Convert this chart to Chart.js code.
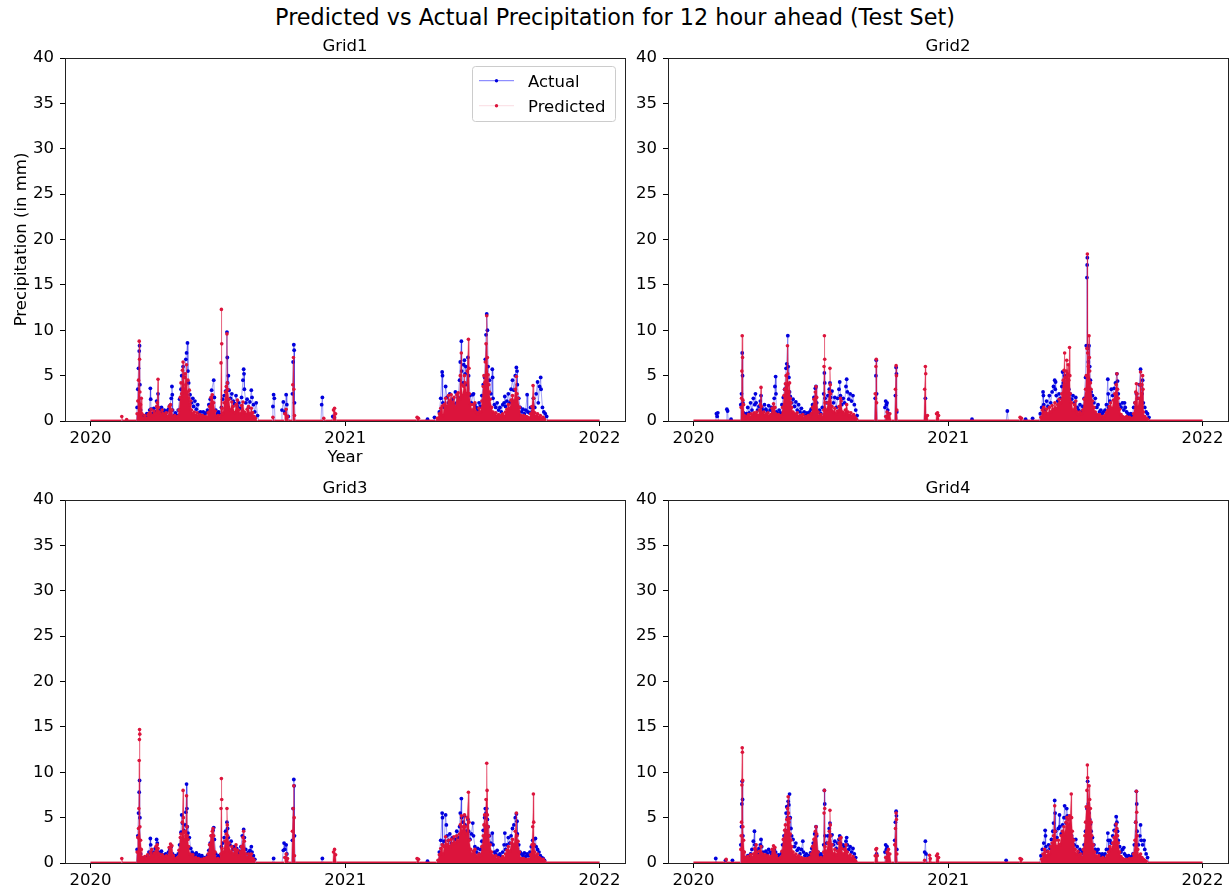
<!DOCTYPE html>
<html><head><meta charset="utf-8">
<script src="https://cdn.jsdelivr.net/npm/chart.js@4.4.1/dist/chart.umd.min.js"></script>
<style>
html,body{margin:0;padding:0;background:#fff;}
#wrap{position:relative;width:1230px;height:892px;overflow:hidden;background:#fff;}
#title{position:absolute;left:0;top:4px;width:1230px;text-align:center;font-family:"DejaVu Sans";font-size:22.3px;line-height:26px;color:#000;white-space:nowrap;}
canvas{position:absolute;}
</style></head><body>
<div id="wrap">
<div id="title">Predicted vs Actual Precipitation for 12 hour ahead (Test Set)</div>
<canvas id="c1" width="640" height="470" style="left:0;top:0"></canvas>
<canvas id="c2" width="610" height="470" style="left:620px;top:0"></canvas>
<canvas id="c3" width="640" height="422" style="left:0;top:470px"></canvas>
<canvas id="c4" width="610" height="422" style="left:620px;top:470px"></canvas>
</div>
<script>
// x values are days since 2020-01-01
const xTickDays = [0, 366, 731];
const xTickLabels = ['2020', '2021', '2022'];
const gridTitles = ['Grid1', 'Grid2', 'Grid3', 'Grid4'];
const seriesNames = ['Actual', 'Predicted'];

const g1Actual = [[0,0],[66,0],[67,1.5],[68,3.5],[69,5.8],[70,7.7],[70.5,8.3],[71,4.0],[72,1.2],[73,0.5],[75,0.3],[77,0.6],[79,0.4],[81,0.8],[83,0.5],[85,1.2],[86,3.6],[86.5,2.4],[87,1.3],[89,0.8],[91,1.4],[93,1.0],[95,2.2],[97,3.0],[98,1.4],[100,1.1],[102,1.5],[104,0.9],[106,1.2],[108,0.8],[110,1.1],[112,1.3],[114,1.7],[116,2.5],[117,3.8],[117.5,2.9],[118,1.2],[120,0.6],[122,0.9],[124,0.6],[126,1.2],[128,2.4],[130,3.5],[131,5.0],[133,6.0],[135,4.8],[137,6.8],[138,7.5],[139.3,8.6],[140,5.5],[141,4.2],[143,2.9],[145,2.0],[147,2.5],[148,1.6],[150,2.2],[152,1.3],[154,1.8],[156,0.9],[158,1.0],[160,0.6],[162,1.0],[164,0.7],[166,0.9],[168,1.2],[170,1.8],[172,2.4],[174,3.4],[177,4.5],[178,2.6],[180,1.2],[182,0.8],[184,1.0],[186,0.7],[188,1.5],[190,2.4],[192,2.8],[194,3.3],[196,9.8],[196.5,7.0],[197,4.2],[198,5.0],[199,3.4],[201,2.5],[203,3.0],[205,2.2],[207,1.9],[209,2.8],[211,1.6],[213,2.0],[215,1.4],[217,2.6],[219,4.5],[220,5.7],[220.5,5.2],[221,3.5],[223,2.0],[225,2.4],[227,1.5],[229,2.1],[231,3.4],[232,2.6],[234,1.8],[236,1.0],[238,2.0],[240,0.6],[242,0],[261,0],[262,1.6],[263,2.9],[264,2.5],[265,0],[274,0],[275,1.2],[277,2.1],[279,1.0],[281,2.9],[282,1.8],[284,0.5],[286,0],[289,0],[290,3.0],[291,6.5],[292,8.4],[292.5,7.8],[293,2.0],[294,0],[331,0],[332,1.8],[333,2.6],[334,0],[346,0],[348,0.5],[350,0.4],[352,0],
[483,0],[484,0.2],[485,0],[493,0],[494,0.4],[495,0],[499,0],[501,1.0],[503,2.5],[505,5.4],[505.5,5.0],[506,2.0],[508,1.5],[510,3.8],[512,2.6],[514,2.0],[516,3.0],[518,2.2],[520,2.4],[522,1.8],[524,3.2],[526,2.0],[528,2.6],[530,4.5],[531,6.5],[532.6,8.8],[533,5.5],[535,4.2],[536,6.2],[537,6.7],[538,5.2],[539,6.0],[540,4.0],[542,7.0],[543,5.0],[545,2.8],[547,2.0],[549,2.9],[550,3.0],[552,1.8],[554,1.5],[556,1.2],[558,2.0],[560,1.6],[562,2.8],[564,4.0],[566,4.8],[567,6.8],[568,9.5],[569,11.8],[570,10.0],[571,6.0],[573,4.5],[575,3.0],[577,5.7],[577.5,4.8],[578,2.5],[580,1.8],[582,1.5],[584,2.0],[586,1.2],[588,1.5],[590,1.0],[592,1.8],[594,2.0],[595,2.7],[596,1.6],[598,2.2],[600,3.0],[602,2.0],[604,3.5],[606,4.5],[608,3.4],[610,5.0],[611.6,5.9],[612.5,5.5],[613,4.0],[615,2.5],[617,1.5],[619,1.0],[621,1.3],[623,0.8],[625,1.2],[627,2.9],[628,1.0],[630,0.9],[632,1.5],[634,1.0],[636,2.5],[638,1.5],[640,3.0],[642,4.3],[643,2.0],[645,3.8],[646.5,4.8],[647,3.5],[649,1.5],[651,1.0],[653,0.8],[655,0.5],[657,0],[731,0]];

const g1Predicted = [[0,0],[44,0],[45,0.5],[46.5,0],[51,0],[52,0.15],[53,0],[66,0],[67,0.8],[68,2.2],[69,4.5],[70,8.8],[70.5,6.8],[71,3.2],[72,1.8],[73,2.5],[74,0.8],[76,0.3],[78,0.6],[80,0.3],[83,0.7],[85,0.9],[87,1.3],[89,0.6],[91,1.1],[93,0.8],[95,1.6],[96,2.0],[97,4.6],[97.5,1.5],[99,1.0],[101,0.7],[103,1.2],[105,0.8],[107,0.6],[109,0.9],[111,0.5],[113,1.6],[115,1.8],[117,1.2],[119,0.4],[121,0.6],[123,0.3],[125,0.5],[127,1.2],[129,2.6],[130,4.2],[131,3.0],[132,5.6],[133,6.5],[134,4.8],[135,3.5],[136,5.2],[137,4.0],[138,6.2],[139,3.2],[140,4.5],[141,2.5],[142,3.4],[143,1.8],[144,2.2],[145,1.2],[147,0.8],[149,1.0],[151,0.6],[153,0.9],[155,0.5],[157,0.7],[159,0.4],[161,0.6],[163,0.3],[165,0.5],[167,0.4],[169,0.9],[171,1.6],[173,2.6],[175,2.9],[177,2.0],[179,1.1],[181,0.4],[183,0.6],[185,0.3],[187,0.6],[187.5,6.4],[188,12.3],[188.5,8.5],[189,1.4],[190,0.8],[192,2.0],[194,3.2],[195,3.8],[196,9.6],[196.5,4.2],[197,3.5],[199,2.4],[201,1.2],[203,2.1],[205,1.6],[207,0.9],[209,1.8],[211,2.3],[213,1.2],[215,0.8],[217,1.7],[219,2.1],[221,1.0],[223,0.7],[225,1.3],[227,1.6],[229,0.8],[231,1.4],[233,0.9],[235,0.5],[237,0.3],[240,0],[261,0],[262,0.4],[264,0],[278,0],[279,0.8],[281,1.3],[283,0.5],[285,0],[290,0],[290.5,4.0],[291.5,7.0],[292,3.5],[293,0.6],[294,0],[334,0],[335,0.3],[337,0],[348,0],[349,1.2],[350.5,1.4],[352,0.8],[353,0],
[468,0],[469,0.4],[471,0.3],[472,0],[495,0],[498,0.3],[501,0.8],[503,1.4],[505,1.65],[506,0.6],[508,1.8],[510,2.5],[512,1.6],[514,2.8],[516,2.2],[518,2.9],[520,2.0],[522,2.6],[524,1.5],[526,2.9],[528,3.1],[530,2.4],[531,5.0],[532.5,7.5],[533,4.0],[534,2.8],[536,3.8],[537,5.0],[538,4.2],[540,3.0],[541,5.5],[542.7,9.0],[543.5,5.8],[544,3.0],[546,1.8],[548,1.2],[550,1.8],[552,2.0],[554,1.0],[556,0.8],[558,1.4],[560,1.0],[562,2.2],[564,3.8],[565,5.0],[566,4.2],[567,6.5],[568,8.5],[569,11.6],[570,7.0],[571,5.1],[572,4.0],[573,3.2],[574,2.4],[576,1.5],[578,1.0],[580,0.7],[582,0.9],[584,0.5],[586,0.7],[588,0.4],[590,0.6],[592,0.8],[594,0.5],[596,1.0],[598,1.3],[600,1.8],[602,1.4],[604,2.3],[606,2.8],[608,2.2],[610,3.5],[611.6,4.9],[612.5,3.0],[614,2.5],[616,1.5],[618,0.6],[620,0.4],[622,0.6],[624,0.3],[626,0.5],[628,0.4],[630,0.3],[632,0.8],[634,1.6],[635.5,3.9],[636.5,2.5],[638,0.9],[640,0.5],[642,0.8],[644,0.4],[646,0.6],[648,0.3],[650,0.4],[652,0.2],[655,0],[731,0]];

const g2Actual = [[0,0],[32,0],[33,0.8],[34,0.5],[35,0.9],[36,0],[47,0],[48,1.3],[49,1.1],[50,0],[53,0],[54,0.2],[55,0],[67,0],[68,1.8],[69,3.0],[70,7.5],[70.5,5.0],[71,2.0],[72,0.9],[74,0.5],[76,0.8],[78,1.5],[80,0.9],[82,2.0],[84,1.2],[86,2.5],[88,1.8],[89,3.0],[90,2.0],[92,1.2],[94,1.6],[96,2.2],[97,2.8],[98,1.5],[100,1.2],[102,1.8],[104,1.3],[106,1.0],[108,1.7],[110,1.2],[112,1.5],[114,1.0],[116,2.5],[117,3.8],[118,4.9],[118.5,3.0],[119,1.0],[121,0.8],[123,1.2],[125,0.9],[127,1.8],[129,2.6],[131,3.5],[133,5.8],[134,6.3],[135.5,9.4],[136,6.0],[137,4.8],[138,3.2],[139,2.7],[141,2.0],[143,2.4],[145,1.6],[147,2.1],[149,1.2],[151,1.8],[153,1.0],[155,1.4],[157,0.8],[159,1.0],[161,0.6],[163,0.9],[165,0.8],[167,1.0],[169,1.3],[171,1.8],[173,2.6],[175,3.6],[176,3.8],[177,2.0],[179,1.0],[181,1.2],[183,0.8],[185,1.5],[187,3.0],[188,5.3],[188.5,4.2],[189,2.5],[191,2.0],[193,2.8],[195,3.5],[196,4.2],[197,2.6],[199,3.3],[201,2.0],[203,2.6],[205,1.5],[207,2.5],[209,3.5],[210,4.3],[211,2.8],[213,1.8],[215,2.5],[217,2.0],[219,3.8],[220,4.6],[221,3.2],[223,2.4],[225,3.0],[227,2.2],[229,2.8],[231,1.8],[233,1.2],[235,0.6],[237,0],[260,0],[261,2.5],[262,5.0],[262.5,6.7],[263,3.0],[264,0],[274,0],[275,1.5],[276,2.2],[277,1.8],[278,2.0],[279,1.2],[280,0.8],[282,0],[289,0],[290,2.8],[291,5.9],[291.5,5.2],[292,1.0],[293,0],[331,0],[333,2.5],[334,0],
[399,0],[400,0.2],[401,0],[449,0],[450.7,1.1],[452,0],[476,0],[477,0.2],[478,0],[486,0],[487,0.3],[488,0],[496,0],[498,0.8],[500,1.5],[502,3.2],[502.5,2.8],[503,1.8],[505,1.2],[507,2.2],[509,1.6],[511,2.8],[513,2.0],[515,3.2],[517,3.8],[518.7,4.5],[519.5,3.5],[520,4.3],[521,2.8],[523,2.2],[525,3.0],[527,2.5],[529,3.8],[530,5.4],[531,4.2],[533,5.0],[535,4.0],[537,4.4],[539,3.5],[541,3.0],[543,2.4],[545,2.8],[547,2.0],[549,2.6],[551,1.5],[553,1.2],[555,1.8],[557,1.0],[559,1.6],[561,2.5],[563,4.8],[564,8.3],[565,15.8],[565.3,17.2],[565.6,18.0],[566,8.0],[567,6.5],[568,8.3],[569,6.0],[570,4.5],[571,3.2],[573,2.8],[575,2.0],[577,2.5],[579,1.5],[581,1.8],[583,1.0],[585,1.2],[587,0.8],[589,1.0],[591,1.2],[593,1.8],[595,4.6],[595.5,3.0],[596,1.5],[598,2.2],[600,3.5],[602,2.8],[604,3.6],[606,4.2],[608,5.2],[609,4.4],[610,3.0],[612,1.8],[614,1.5],[616,2.0],[618,1.2],[619,2.0],[620,1.5],[622,1.0],[624,0.8],[626,0.6],[628,0.8],[630,0.5],[632,1.5],[634,2.0],[636,3.0],[638,2.5],[640,4.0],[642,5.7],[643,4.0],[644,3.0],[645,4.5],[646,2.0],[648,1.5],[650,1.0],[652,0.8],[654,0.4],[656,0],[731,0]];

const g2Predicted = [[0,0],[68,0],[68.5,1.5],[69,2.5],[69.5,5.5],[70,9.4],[70.5,7.0],[71,2.3],[72,1.8],[73,0.6],[75,0.3],[77,0.5],[79,0.7],[81,0.4],[83,0.8],[85,0.6],[87,0.9],[89,0.7],[91,1.0],[93,0.6],[95,1.2],[96,1.8],[97,3.7],[97.5,1.6],[99,0.8],[101,1.0],[103,0.6],[105,0.8],[107,0.9],[109,0.5],[111,0.7],[113,1.4],[115,1.9],[117,1.5],[118,0.8],[120,0.5],[122,0.7],[124,0.4],[126,0.6],[128,1.5],[130,2.8],[131,3.5],[132,4.1],[133,5.0],[134,3.8],[135,8.3],[135.5,5.2],[136,4.0],[137,3.2],[138,4.2],[139,2.5],[140,2.0],[141,1.5],[143,1.0],[145,0.8],[147,0.6],[149,0.9],[151,0.5],[153,0.6],[155,0.4],[157,0.7],[159,0.3],[161,0.5],[163,0.4],[165,0.6],[167,0.5],[169,0.8],[171,1.5],[173,2.4],[175,3.2],[176,3.8],[177,2.6],[179,1.0],[181,0.5],[183,0.7],[185,0.4],[187,1.2],[187.5,6.0],[188,9.4],[188.5,6.8],[189,2.0],[191,1.2],[193,2.0],[195,3.2],[196,5.8],[196.5,4.0],[197,3.0],[199,1.6],[201,1.0],[203,1.4],[205,0.8],[207,1.1],[209,1.6],[211,2.5],[212,2.2],[214,1.0],[216,0.8],[218,1.2],[220,1.8],[222,1.0],[224,0.6],[226,0.9],[228,0.5],[230,0.7],[232,0.4],[234,0.2],[236,0],[260,0],[261,3.0],[262,6.0],[262.5,6.8],[263,2.0],[264,0],[275,0],[276,0.5],[278,1.0],[280,0.6],[282,0.8],[284,0],[289,0],[290,3.5],[291,6.1],[291.5,5.0],[292,1.2],[293,0],[331,0],[332,3.5],[333,6.0],[333.5,5.2],[334,0.5],[336,0.6],[337,0],[348,0],[349,0.8],[350.5,0.9],[352,0.6],[353,0],
[468,0],[469,0.4],[471,0.3],[472,0],[497,0],[499,0.4],[501,1.2],[503,1.5],[505,0.9],[507,1.3],[509,0.8],[511,1.5],[513,1.0],[515,1.7],[517,1.3],[519,2.0],[521,1.4],[523,1.8],[525,2.4],[527,2.0],[529,3.0],[531,4.5],[532,5.6],[533,7.5],[533.5,4.8],[534,4.0],[535,5.5],[536,6.7],[537,5.2],[538,6.2],[539,4.5],[540,8.1],[540.5,5.0],[541,3.0],[543,2.0],[545,1.2],[547,1.8],[549,2.2],[551,1.0],[553,0.7],[555,1.0],[557,0.8],[559,1.2],[561,2.4],[563,3.5],[564,5.0],[565,8.0],[565.6,18.4],[566,7.5],[567,6.0],[568,9.4],[568.5,7.0],[569,5.5],[570,4.2],[571,3.5],[573,2.2],[575,1.5],[577,1.0],[579,0.7],[581,0.5],[583,0.7],[585,0.4],[587,0.5],[589,0.3],[591,0.6],[593,0.9],[595,1.2],[597,1.6],[599,2.0],[601,1.4],[603,2.3],[605,3.0],[607,4.0],[608,5.2],[609,3.5],[610,2.5],[612,1.3],[614,0.7],[616,0.5],[618,0.4],[620,0.3],[622,0.5],[624,0.3],[626,0.4],[628,0.2],[630,0.3],[632,0.8],[634,2.0],[635,3.2],[636,4.1],[637,3.0],[638,1.5],[640,2.5],[641,4.0],[642,5.4],[643,3.0],[644,4.0],[645,5.0],[645.5,3.5],[646,1.0],[648,0.5],[650,0.3],[652,0.2],[654,0],[731,0]];

const g3Actual = [[0,0],[66,0],[67,1.5],[68,3.0],[69,5.5],[70,7.8],[70.5,9.1],[71,5.0],[72,1.0],[74,0.5],[76,0.3],[78,0.6],[80,0.4],[82,0.8],[84,1.2],[86,2.7],[86.5,2.0],[87,1.0],[89,0.8],[91,1.2],[93,1.6],[95,2.6],[96,2.2],[98,1.2],[100,1.0],[102,1.3],[104,0.9],[106,0.7],[108,1.0],[110,0.8],[112,1.2],[114,1.5],[116,1.8],[118,1.0],[120,0.6],[122,0.8],[124,0.5],[126,1.0],[128,2.0],[130,3.4],[131,5.3],[132,4.4],[134,3.6],[136,4.2],[137,5.6],[138,8.7],[138.5,6.0],[139,4.0],[140,3.3],[142,2.8],[144,1.6],[146,1.2],[148,1.0],[150,0.8],[152,1.1],[154,0.7],[156,0.9],[158,0.6],[160,0.8],[162,0.5],[164,0.6],[166,0.5],[168,0.8],[170,1.4],[172,2.2],[174,3.0],[176,3.6],[177,3.9],[178,2.6],[180,1.0],[182,0.6],[184,0.8],[186,0.5],[188,1.8],[190,2.2],[192,2.8],[194,3.5],[196,4.5],[197,3.8],[198,2.8],[200,2.0],[202,2.4],[204,1.5],[206,1.8],[208,1.2],[210,1.6],[212,1.0],[214,1.3],[216,1.8],[218,3.0],[220,3.7],[221,2.8],[223,1.5],[225,1.0],[227,1.2],[229,1.4],[231,1.8],[232,1.2],[234,0.8],[236,0.4],[238,0],[261,0],[263,0.5],[264,0],[275,0],[277,1.4],[278,2.2],[279,1.5],[281,2.0],[282,1.0],[284,0],[289,0],[290,2.5],[291,6.0],[292,9.2],[292.5,8.5],[293,3.0],[294,0],[331,0],[333,0.5],[334,0],
[483,0],[484,0.2],[485,0],[499,0],[501,1.2],[503,2.5],[505,5.5],[505.5,5.0],[506,2.0],[508,2.4],[510,5.3],[511,4.2],[512,3.0],[514,2.5],[516,3.2],[518,2.2],[520,2.8],[522,2.0],[524,2.6],[526,3.5],[528,2.8],[530,4.0],[531,5.5],[532.6,7.1],[533,5.0],[535,4.5],[537,5.2],[538,4.2],[540,3.5],[542,4.8],[543,3.5],[545,2.6],[547,3.2],[549,4.4],[550,3.0],[552,1.8],[554,1.2],[556,1.6],[558,1.0],[560,1.5],[562,2.4],[564,3.6],[566,5.0],[567,6.0],[568,5.5],[569,6.0],[570,4.8],[571,4.0],[573,3.0],[575,2.2],[577,3.3],[578,2.0],[580,1.2],[582,1.0],[584,1.4],[586,0.8],[588,1.0],[590,0.7],[592,1.2],[594,2.0],[595,3.3],[596,1.5],[598,2.0],[600,2.8],[602,2.2],[604,3.0],[606,3.8],[608,4.2],[610,5.0],[611.6,5.4],[612.5,4.6],[613,3.2],[615,2.0],[617,1.2],[619,1.0],[621,0.8],[623,1.1],[625,0.7],[627,1.0],[629,0.8],[631,1.2],[633,1.8],[635,2.5],[637,2.0],[639,2.7],[640,1.8],[642,1.5],[644,1.2],[646,0.8],[648,0.6],[650,0.5],[652,0.3],[654,0],[731,0]];

const g3Predicted = [[0,0],[44,0],[45,0.5],[46.5,0],[66,0],[67,1.2],[68,2.8],[69,3.8],[69.5,6.0],[70,11.3],[70.3,13.6],[70.5,14.7],[70.8,14.2],[71,4.0],[72,2.5],[73,1.5],[74,0.6],[76,0.4],[78,0.7],[80,0.5],[82,0.9],[84,0.6],[86,1.2],[88,1.5],[90,0.8],[92,1.1],[94,1.8],[96,2.0],[97,1.6],[99,1.0],[101,0.6],[103,0.9],[105,0.7],[107,0.5],[109,0.8],[111,0.6],[113,1.7],[115,2.1],[117,1.9],[119,0.8],[121,0.5],[123,0.4],[125,0.6],[127,1.4],[129,2.8],[130,3.2],[131,2.5],[132,4.5],[133,8.0],[133.5,5.0],[134,3.3],[135,2.6],[136,3.5],[137,3.0],[138,7.4],[138.5,4.0],[139,3.0],[140,2.6],[141,1.8],[143,1.0],[145,0.7],[147,0.9],[149,0.5],[151,0.6],[153,0.4],[155,0.5],[157,0.3],[159,0.4],[161,0.3],[163,0.5],[165,0.4],[167,0.6],[169,1.0],[171,2.0],[173,3.0],[175,3.5],[176,3.8],[177,3.0],[179,1.2],[181,0.4],[183,0.5],[185,0.3],[187,1.0],[187.5,6.0],[188,9.3],[188.5,7.0],[189,1.6],[191,1.2],[193,2.4],[195,3.2],[196,6.0],[196.5,4.2],[197,3.0],[199,2.2],[201,1.2],[203,1.8],[205,1.0],[207,1.5],[209,2.0],[211,1.4],[213,0.8],[215,1.2],[217,1.8],[219,2.8],[220,3.5],[221,2.4],[223,1.0],[225,0.6],[227,1.0],[229,0.7],[231,1.0],[233,0.5],[235,0.3],[237,0],[278,0],[279,0.6],[281,1.0],[283,0.5],[285,0],[289,0],[290,3.5],[291,6.0],[292,8.5],[292.5,5.0],[293,0.8],[294,0],[348,0],[349,1.2],[350.5,1.5],[352,0.9],[353,0],
[468,0],[469,0.5],[471,0.4],[472,0],[497,0],[499,0.3],[501,0.9],[503,1.6],[505,2.0],[506,1.0],[508,1.8],[510,2.9],[512,2.0],[514,2.5],[516,1.8],[518,2.6],[520,2.1],[522,2.9],[524,2.2],[526,3.0],[528,2.4],[530,3.2],[531,4.2],[532.6,5.2],[533,3.5],[535,4.0],[537,5.3],[538,4.0],[540,3.2],[541,5.0],[542.7,7.8],[543.5,4.5],[544,2.5],[546,1.5],[548,1.0],[550,1.3],[552,1.5],[554,0.8],[556,0.6],[558,1.0],[560,0.8],[562,1.8],[564,3.0],[565,4.2],[566,5.3],[567,4.0],[568,7.0],[569,11.0],[569.5,8.0],[570,5.3],[571,4.0],[572,3.0],[574,2.0],[576,1.2],[578,0.8],[580,0.6],[582,0.8],[584,0.4],[586,0.6],[588,0.3],[590,0.5],[592,0.7],[594,0.5],[596,1.0],[598,1.4],[600,1.8],[602,1.3],[604,2.2],[606,2.6],[608,2.0],[610,3.5],[611.6,5.5],[612.5,3.0],[614,2.4],[616,1.2],[618,0.5],[620,0.4],[622,0.5],[624,0.3],[626,0.4],[628,0.3],[630,0.4],[632,0.9],[634,2.0],[635,4.0],[636,7.6],[636.5,4.5],[637,2.0],[638,1.2],[640,0.8],[642,1.0],[644,0.6],[646,0.5],[648,0.3],[650,0.4],[652,0.2],[654,0],[731,0]];

const g4Actual = [[0,0],[31,0],[32,0.5],[33,0],[45,0],[46,0.3],[47,0],[55,0],[56,0.3],[57,0],[67,0],[68,2.0],[69,4.0],[69.5,6.5],[70,9.0],[70.5,7.0],[71,3.0],[72,1.2],[74,0.6],[76,0.4],[78,0.8],[80,0.6],[82,1.0],[84,1.5],[86,2.4],[87.6,3.5],[88,2.0],[90,1.4],[92,1.0],[94,1.6],[96,2.0],[97,2.6],[98,1.8],[100,1.2],[102,0.8],[104,1.3],[106,1.0],[108,1.5],[110,1.2],[112,0.9],[114,1.2],[116,1.5],[118,1.2],[120,0.7],[122,0.9],[124,0.6],[126,1.0],[128,2.0],[130,3.0],[132,3.6],[133,5.5],[134,6.2],[135,5.0],[136,6.8],[137,6.4],[138,7.6],[139,5.0],[140,3.8],[141,3.0],[143,2.6],[145,1.8],[147,2.2],[149,1.4],[151,1.6],[153,1.0],[155,1.5],[157,2.4],[158,1.2],[160,0.8],[162,1.0],[164,0.6],[166,0.8],[168,1.1],[170,1.6],[172,2.2],[174,3.2],[176,4.0],[177,3.0],[179,1.2],[181,0.8],[183,1.0],[185,0.7],[187,2.0],[188,8.0],[188.5,6.5],[189,3.0],[191,2.2],[193,3.0],[195,3.8],[196,4.4],[197,3.0],[199,3.1],[201,2.0],[203,2.4],[205,1.6],[207,2.2],[209,2.6],[210,3.0],[211,2.2],[213,1.6],[215,2.0],[217,1.8],[219,2.4],[220,2.8],[221,2.0],[223,1.5],[225,1.8],[227,1.2],[229,1.6],[231,1.0],[233,0.6],[235,0],[262,0],[263,1.0],[264,0],[274,0],[275,1.2],[276,2.0],[277,1.5],[278,1.8],[279,1.0],[281,0],[288,0],[289,2.5],[290,4.5],[291,5.7],[291.5,5.2],[292,1.5],[293,0],[331,0],[332,1.2],[333,2.4],[334,1.0],[335,0],
[448,0],[449,0.3],[450,0],[497,0],[499,0.8],[501,1.5],[503,2.2],[505,3.6],[505.5,3.0],[506,1.8],[508,1.3],[510,2.0],[512,1.6],[514,2.6],[516,3.5],[517,4.4],[518.7,6.9],[519.3,5.5],[520,3.5],[522,2.8],[524,3.8],[525.6,5.3],[526,4.0],[528,3.2],[530,4.2],[532,5.0],[533,6.3],[534,5.0],[535,4.4],[536,6.0],[537,5.2],[539,4.0],[541,3.5],[543,3.0],[545,2.6],[547,2.0],[549,2.6],[551,1.8],[553,1.2],[555,1.5],[557,1.0],[559,1.3],[561,2.0],[563,3.5],[565,6.0],[566,9.0],[567,6.5],[568,5.5],[569,4.8],[570,4.3],[571,3.5],[573,2.8],[575,2.0],[577,1.5],[579,1.2],[581,1.5],[583,1.0],[585,0.8],[587,1.0],[589,0.7],[591,1.0],[593,1.5],[595,3.3],[595.5,2.5],[596,1.5],[598,2.5],[600,2.2],[602,3.0],[604,3.6],[606,4.2],[607,5.1],[608,4.5],[609,3.5],[610,2.5],[612,1.8],[614,1.2],[616,1.5],[618,1.7],[619,1.0],[621,0.8],[623,0.6],[625,0.8],[627,0.5],[629,0.7],[631,1.0],[633,2.0],[635,4.5],[636,7.9],[636.5,6.5],[637,3.5],[639,2.0],[641,3.0],[642,4.2],[643,2.5],[645,2.0],[647,2.5],[648,1.5],[650,1.0],[652,0.6],[654,0],[731,0]];

const g4Predicted = [[0,0],[46,0],[47,0.4],[48,0],[67,0],[68,1.5],[68.5,3.0],[69,4.5],[69.5,8.6],[70,12.7],[70.3,12.2],[70.6,9.1],[71,4.0],[72,2.5],[73,1.2],[74,0.6],[76,0.4],[78,0.7],[80,0.5],[82,0.9],[84,0.6],[86,1.0],[88,1.6],[90,2.0],[91,1.2],[93,0.8],[95,1.3],[97,1.8],[99,1.0],[101,0.7],[103,0.9],[105,0.6],[107,0.8],[109,0.5],[111,0.7],[113,1.5],[115,1.9],[117,1.7],[119,0.8],[121,0.5],[123,0.4],[125,0.6],[127,1.3],[129,2.6],[131,3.6],[132,4.2],[133,3.5],[134,4.8],[135,6.0],[136,7.3],[136.5,5.5],[137,4.5],[138,4.9],[139,3.2],[140,2.5],[141,1.8],[143,1.2],[145,0.8],[147,1.0],[149,0.6],[151,0.8],[153,0.5],[155,0.6],[157,0.4],[159,0.5],[161,0.3],[163,0.5],[165,0.4],[167,0.6],[169,1.0],[171,1.8],[173,2.6],[175,3.5],[176,4.0],[177,3.2],[179,1.2],[181,0.5],[183,0.6],[185,0.4],[187,1.2],[187.5,5.5],[188,8.0],[188.5,6.0],[189,1.8],[191,1.3],[193,2.2],[195,3.5],[196,5.8],[196.5,4.2],[197,3.0],[199,2.0],[201,1.0],[203,1.5],[205,0.9],[207,1.3],[209,2.2],[210,2.7],[211,2.0],[212,2.8],[213,1.6],[215,1.0],[217,1.5],[219,2.0],[221,1.2],[223,0.7],[225,0.9],[227,0.5],[229,0.7],[231,0.4],[233,0.2],[235,0],[260,0],[261,0.8],[262,1.5],[263,1.6],[264,0.8],[265,0],[275,0],[276,0.6],[278,1.2],[280,1.5],[282,1.0],[284,0],[288,0],[289,2.0],[290,3.8],[291,5.5],[291.5,4.8],[292,1.0],[293,0],[331,0],[332,0.3],[334,0],[338,0],[339,0.85],[340,0.5],[341,0],[348,0],[349,0.8],[350.5,1.0],[352,0.6],[353,0],
[468,0],[469,0.5],[471,0.4],[472,0],[498,0],[500,0.4],[502,1.0],[504,1.5],[505,1.2],[507,0.8],[509,1.3],[511,1.0],[513,1.8],[515,2.2],[517,3.0],[518.7,6.3],[519.3,3.5],[520,2.5],[522,1.8],[524,2.5],[526,2.0],[528,3.0],[530,3.5],[532,4.0],[533,3.2],[535,4.5],[536,5.0],[537,4.2],[538,4.8],[539,4.0],[540,5.2],[541,5.0],[542.5,7.6],[543,5.0],[544,3.5],[546,2.5],[548,1.5],[550,1.0],[552,1.3],[554,0.8],[556,1.0],[558,0.6],[560,1.5],[562,3.0],[563,4.5],[564,6.2],[565,8.0],[565.6,10.8],[566,9.4],[567,6.2],[568,8.5],[569,7.0],[570,6.0],[571,4.5],[572,3.0],[574,2.0],[576,1.2],[578,0.8],[580,0.6],[582,0.8],[584,0.5],[586,0.4],[588,0.6],[590,0.3],[592,0.5],[594,0.8],[596,1.2],[598,1.8],[600,1.5],[602,2.2],[604,2.8],[606,3.5],[607,4.3],[608,3.8],[609,3.0],[610,2.2],[612,1.2],[614,0.7],[616,0.5],[618,0.4],[620,0.3],[622,0.4],[624,0.3],[626,0.5],[628,0.3],[630,0.5],[632,1.0],[634,2.5],[635,4.5],[636,7.9],[636.5,5.6],[637,3.0],[638,1.5],[640,0.8],[642,1.0],[644,0.6],[646,0.4],[648,0.3],[650,0.2],[652,0],[731,0]];

const FONT = '"DejaVu Sans"';
const FS = 16.5;
const BLUE = '#0000dd';
const RED = '#dc143c';

function framePlugin(title, withLegend) {
  return {
    id: 'frame',
    afterDraw(chart) {
      const ctx = chart.ctx, a = chart.chartArea;
      ctx.save();
      ctx.strokeStyle = '#222';
      ctx.lineWidth = 1;
      const l = Math.round(a.left) + 0.5, t = Math.round(a.top) + 0.5;
      const r = Math.round(a.right) + 0.5, b = Math.round(a.bottom) + 0.5;
      ctx.strokeRect(l, t, r - l, b - t);
      ctx.fillStyle = '#000';
      ctx.font = FS + 'px ' + FONT;
      ctx.textAlign = 'center';
      ctx.textBaseline = 'alphabetic';
      ctx.fillText(title, (a.left + a.right) / 2, a.top - 7);
      if (withLegend) {
        const bx = 472.5, by = 66.5, bw = 143, bh = 55, rad = 3;
        ctx.beginPath();
        ctx.moveTo(bx + rad, by);
        ctx.arcTo(bx + bw, by, bx + bw, by + bh, rad);
        ctx.arcTo(bx + bw, by + bh, bx, by + bh, rad);
        ctx.arcTo(bx, by + bh, bx, by, rad);
        ctx.arcTo(bx, by, bx + bw, by, rad);
        ctx.closePath();
        ctx.fillStyle = 'rgba(255,255,255,0.8)';
        ctx.fill();
        ctx.strokeStyle = '#cccccc';
        ctx.stroke();
        const items = [
          {name: seriesNames[0], y: 80.7, line: 'rgba(0,0,255,0.55)', dot: BLUE},
          {name: seriesNames[1], y: 105.7, line: 'rgba(220,20,60,0.15)', dot: RED}
        ];
        items.forEach(it => {
          ctx.strokeStyle = it.line;
          ctx.lineWidth = 1;
          ctx.beginPath(); ctx.moveTo(479, it.y); ctx.lineTo(514, it.y); ctx.stroke();
          ctx.fillStyle = it.dot;
          ctx.beginPath(); ctx.arc(496.5, it.y, 1.7, 0, Math.PI * 2); ctx.fill();
          ctx.fillStyle = '#000';
          ctx.textAlign = 'left';
          ctx.textBaseline = 'alphabetic';
          ctx.fillText(it.name, 528, it.y + 6);
        });
      }
      ctx.restore();
    }
  };
}

function makeChart(id, title, act, pred, o) {
  const pts = arr => arr.map(p => ({x: p[0], y: p[1]}));
  const isBase = c => c.p0.parsed.y <= 0.01 && c.p1.parsed.y <= 0.01;
  const font = {family: FONT, size: FS};
  new Chart(document.getElementById(id), {
    type: 'line',
    data: {
      datasets: [
        {
          label: seriesNames[1], data: pts(pred), order: 0,
          borderColor: 'rgba(220,20,60,0.4)', borderWidth: 1,
          backgroundColor: RED, fill: 'origin',
          pointRadius: c => (c.raw && c.raw.y > 0.01) ? 1.8 : 0,
          pointBackgroundColor: RED, pointBorderWidth: 0, tension: 0,
          segment: {
            borderWidth: c => isBase(c) ? 2.8 : 1,
            borderColor: c => isBase(c) ? RED : 'rgba(220,20,60,0.4)'
          }
        },
        {
          label: seriesNames[0], data: pts(act), order: 1,
          borderColor: 'rgba(0,0,230,0.45)', borderWidth: 0.8, fill: false,
          pointRadius: c => (c.raw && c.raw.y > 0.01) ? 1.9 : 0,
          pointBackgroundColor: BLUE, pointBorderWidth: 0, tension: 0
        }
      ]
    },
    options: {
      responsive: false, animation: false, events: [],
      layout: {padding: {top: o.top, right: o.right, left: 0, bottom: 0}},
      plugins: {legend: {display: false}, tooltip: {enabled: false}, title: {display: false}},
      scales: {
        x: {
          type: 'linear', min: -36.55, max: 767.55,
          afterBuildTicks: s => { s.ticks = xTickDays.map(v => ({value: v})); },
          afterFit: s => { s.height = o.xh; },
          ticks: {callback: (v, i) => xTickLabels[i], font, color: '#000', padding: 3, maxRotation: 0, autoSkip: false},
          grid: {drawOnChartArea: false, drawTicks: true, tickLength: 5, color: '#000', tickColor: '#000', lineWidth: 1},
          border: {display: false},
          title: {display: !!o.xTitle, text: 'Year', font, color: '#000', padding: {top: 0, bottom: 2}}
        },
        y: {
          min: 0, max: 40,
          afterFit: s => { s.width = o.yw; },
          ticks: {stepSize: 5, font, color: '#000', padding: 6},
          grid: {drawOnChartArea: false, drawTicks: true, tickLength: 5, color: '#000', tickColor: '#000', lineWidth: 1},
          border: {display: false},
          title: {display: !!o.yTitle, text: 'Precipitation (in mm)', font, color: '#000', padding: {top: 12, bottom: 0}}
        }
      }
    },
    plugins: [framePlugin(title, !!o.legend)]
  });
}

makeChart('c1', gridTitles[0], g1Actual, g1Predicted, {top: 58, right: 15, yw: 65, xh: 49, xTitle: true, yTitle: true, legend: true});
makeChart('c2', gridTitles[1], g2Actual, g2Predicted, {top: 58, right: 2, yw: 48, xh: 49});
makeChart('c3', gridTitles[2], g3Actual, g3Predicted, {top: 30, right: 15, yw: 65, xh: 29});
makeChart('c4', gridTitles[3], g4Actual, g4Predicted, {top: 30, right: 2, yw: 48, xh: 29});
</script>
</body></html>
